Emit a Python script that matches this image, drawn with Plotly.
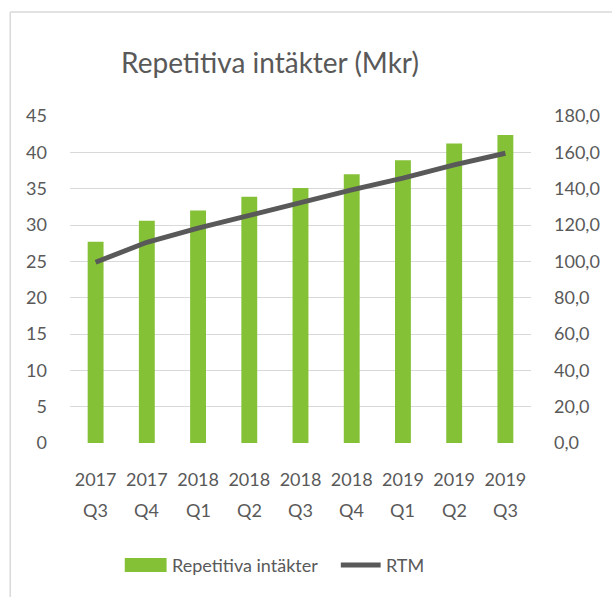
import plotly.graph_objects as go

years = ["2017", "2017", "2018", "2018", "2018", "2018", "2019", "2019", "2019"]
quarters = ["Q3", "Q4", "Q1", "Q2", "Q3", "Q4", "Q1", "Q2", "Q3"]
categories = [f"{y} {q}" for y, q in zip(years, quarters)]
repetitiva = [27.7, 30.6, 32.0, 33.9, 35.1, 37.0, 38.9, 41.2, 42.4]
rtm = [99.5, 110.5, 118.3, 125.5, 132.3, 139.3, 145.8, 153.1, 159.5]
left_ticks = list(range(0, 50, 5))
right_ticks = list(range(0, 200, 20))

FONT = "Lato, sans-serif"
TXT = "#595959"
GREEN = "#84c136"
LINE = "#595959"
GRID = "#d9d9d9"
TS = 18

W, H = 612, 597
L, R, T, B = 70, 79, 116, 154
pw, ph = W - L - R, H - T - B

def px2paper_x(px):
    return (px - L) / pw

def py2paper_y(py):
    return (H - B - py) / ph

fig = go.Figure()
fig.add_trace(go.Bar(x=categories, y=repetitiva, name="Repetitiva intäkter",
                     marker=dict(color=GREEN, line=dict(width=0)), width=0.31,
                     showlegend=False, yaxis="y"))
fig.add_trace(go.Scatter(x=categories, y=rtm, name="RTM", mode="lines",
                         line=dict(color=LINE, width=5, shape="linear"),
                         showlegend=False, yaxis="y2"))

shapes = []
# outer chart border (left and top visible)
shapes.append(dict(type="line", xref="paper", yref="paper",
                   x0=px2paper_x(10), x1=px2paper_x(10),
                   y0=py2paper_y(12), y1=py2paper_y(600),
                   line=dict(color=GRID, width=1.5)))
shapes.append(dict(type="line", xref="paper", yref="paper",
                   x0=px2paper_x(10), x1=px2paper_x(615),
                   y0=py2paper_y(12), y1=py2paper_y(12),
                   line=dict(color=GRID, width=1.5)))
# custom legend
shapes.append(dict(type="rect", xref="paper", yref="paper",
                   x0=px2paper_x(125), x1=px2paper_x(167),
                   y0=py2paper_y(572), y1=py2paper_y(558),
                   fillcolor=GREEN, line=dict(width=0)))
shapes.append(dict(type="line", xref="paper", yref="paper",
                   x0=px2paper_x(342), x1=px2paper_x(382),
                   y0=py2paper_y(565), y1=py2paper_y(565),
                   line=dict(color=LINE, width=5)))

annotations = [
    dict(text="Repetitiva intäkter", xref="paper", yref="paper",
         x=px2paper_x(170), y=py2paper_y(565), xanchor="left", yanchor="middle",
         showarrow=False, font=dict(family=FONT, size=18, color=TXT)),
    dict(text="RTM", xref="paper", yref="paper",
         x=px2paper_x(385), y=py2paper_y(565), xanchor="left", yanchor="middle",
         showarrow=False, font=dict(family=FONT, size=18, color=TXT)),
]
# second line of category labels (quarters)
for c, q in zip(categories, quarters):
    annotations.append(dict(text=q, xref="x", yref="paper", x=c,
                            y=py2paper_y(510), xanchor="center", yanchor="middle",
                            showarrow=False,
                            font=dict(family=FONT, size=TS, color=TXT)))

fig.update_layout(
    width=W, height=H,
    margin=dict(l=L, r=R, t=T, b=B),
    paper_bgcolor="white", plot_bgcolor="white",
    separators=", ",
    font=dict(family=FONT, size=TS, color=TXT),
    title=dict(text="Repetitiva intäkter (Mkr)", x=270 / W, xanchor="center",
               y=1 - 63 / H, yanchor="middle",
               font=dict(family=FONT, size=28, color=TXT)),
    xaxis=dict(tickmode="array", tickvals=categories, ticktext=years,
               showgrid=False, showline=False, zeroline=False, ticks="",
               tickfont=dict(family=FONT, size=TS, color=TXT),
               ticklabelstandoff=24, fixedrange=True),
    yaxis=dict(range=[0, 45], tickvals=left_ticks, showgrid=True, gridcolor=GRID,
               gridwidth=1.3, zeroline=False, showline=False, ticks="",
               tickfont=dict(family=FONT, size=TS, color=TXT),
               ticklabelstandoff=22, fixedrange=True),
    yaxis2=dict(range=[0, 180], tickvals=right_ticks, tickformat=".1f",
                overlaying="y", side="right", showgrid=False, zeroline=False,
                showline=False, ticks="",
                tickfont=dict(family=FONT, size=TS, color=TXT),
                ticklabelstandoff=22, fixedrange=True),
    shapes=shapes,
    annotations=annotations,
)

fig.write_html("out.html", config={"displayModeBar": False},
               post_script="document.body.style.margin='0';document.body.style.overflow='hidden';")
